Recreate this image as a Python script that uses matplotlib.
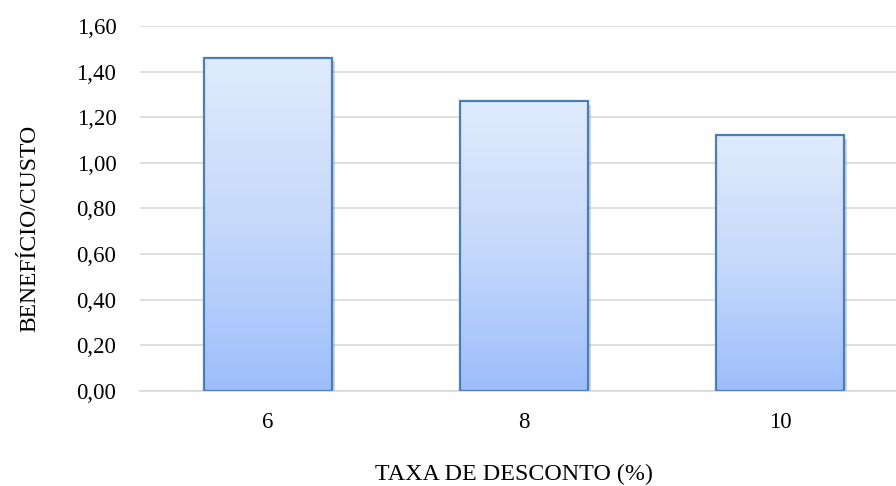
import numpy as np
import matplotlib.pyplot as plt
import matplotlib.patheffects as pe
from matplotlib.colors import LinearSegmentedColormap
from matplotlib.ticker import FuncFormatter

plt.rcParams['font.family'] = ['Liberation Serif', 'DejaVu Serif']

# taxa de desconto x relação benefício/custo
taxas = ['6', '8', '10']
beneficio_custo = [1.46, 1.27, 1.12]

W, H = 896, 486
fig = plt.figure(figsize=(W / 100, H / 100), dpi=100)
# área do gráfico em pixels: x 140..896, y 26..391
ax = fig.add_axes([140 / W, 1 - 391 / H, 1 - 140 / W, (391 - 26) / H])

x = np.arange(len(taxas))
largura = 0.5

# base das barras com sombra leve
base = ax.bar(x, beneficio_custo, width=largura, color='white', zorder=2,
              path_effects=[pe.SimplePatchShadow(offset=(2.5, -2.5), shadow_rgbFace='#808080', alpha=0.35),
                            pe.Normal()])

# gradiente vertical (claro em cima, mais escuro embaixo)
cmap = LinearSegmentedColormap.from_list('azul', ['#9dbefc', '#c6d9fb', '#e0ebfd'])
grad = np.linspace(0, 1, 256).reshape(-1, 1)
for rect in base:
    x0, y0 = rect.get_x(), rect.get_y()
    w, h = rect.get_width(), rect.get_height()
    im = ax.imshow(grad, cmap=cmap, origin='lower', aspect='auto',
                   extent=[x0, x0 + w, y0, y0 + h], zorder=3)
    im.set_clip_path(rect)

# contorno das barras
ax.bar(x, beneficio_custo, width=largura, fill=False, edgecolor='#4a7ebb', linewidth=1.6, zorder=4)

ax.set_xlim(-0.5, 2.5 - 12 / 256)
ax.set_ylim(0, 1.6)
ax.set_yticks(np.arange(0, 1.61, 0.2))
ax.yaxis.set_major_formatter(FuncFormatter(lambda v, p: f'{v:.2f}'.replace('.', ',')))
ax.set_xticks(x)
ax.set_xticklabels(taxas)

ax.grid(axis='y', color='#d9d9d9', linewidth=1.2, zorder=0)
ax.set_axisbelow(True)
for s in ['top', 'right', 'left']:
    ax.spines[s].set_visible(False)
ax.spines['bottom'].set_color('#d9d9d9')
ax.spines['bottom'].set_linewidth(1.2)
ax.tick_params(length=0, labelsize=16.5, colors='black')
ax.tick_params(axis='y', pad=17)
ax.tick_params(axis='x', pad=15)

ax.set_ylabel('BENEFÍCIO/CUSTO', fontsize=17, va='baseline')
ax.yaxis.set_label_coords((35 - 140) / 756, (391 - 228) / 365)
ax.set_xlabel('TAXA DE DESCONTO (%)', fontsize=17.3, va='baseline')
ax.xaxis.set_label_coords((514 - 140) / 756, (391 - 480) / 365)

fig.savefig('out.png', dpi=100)
